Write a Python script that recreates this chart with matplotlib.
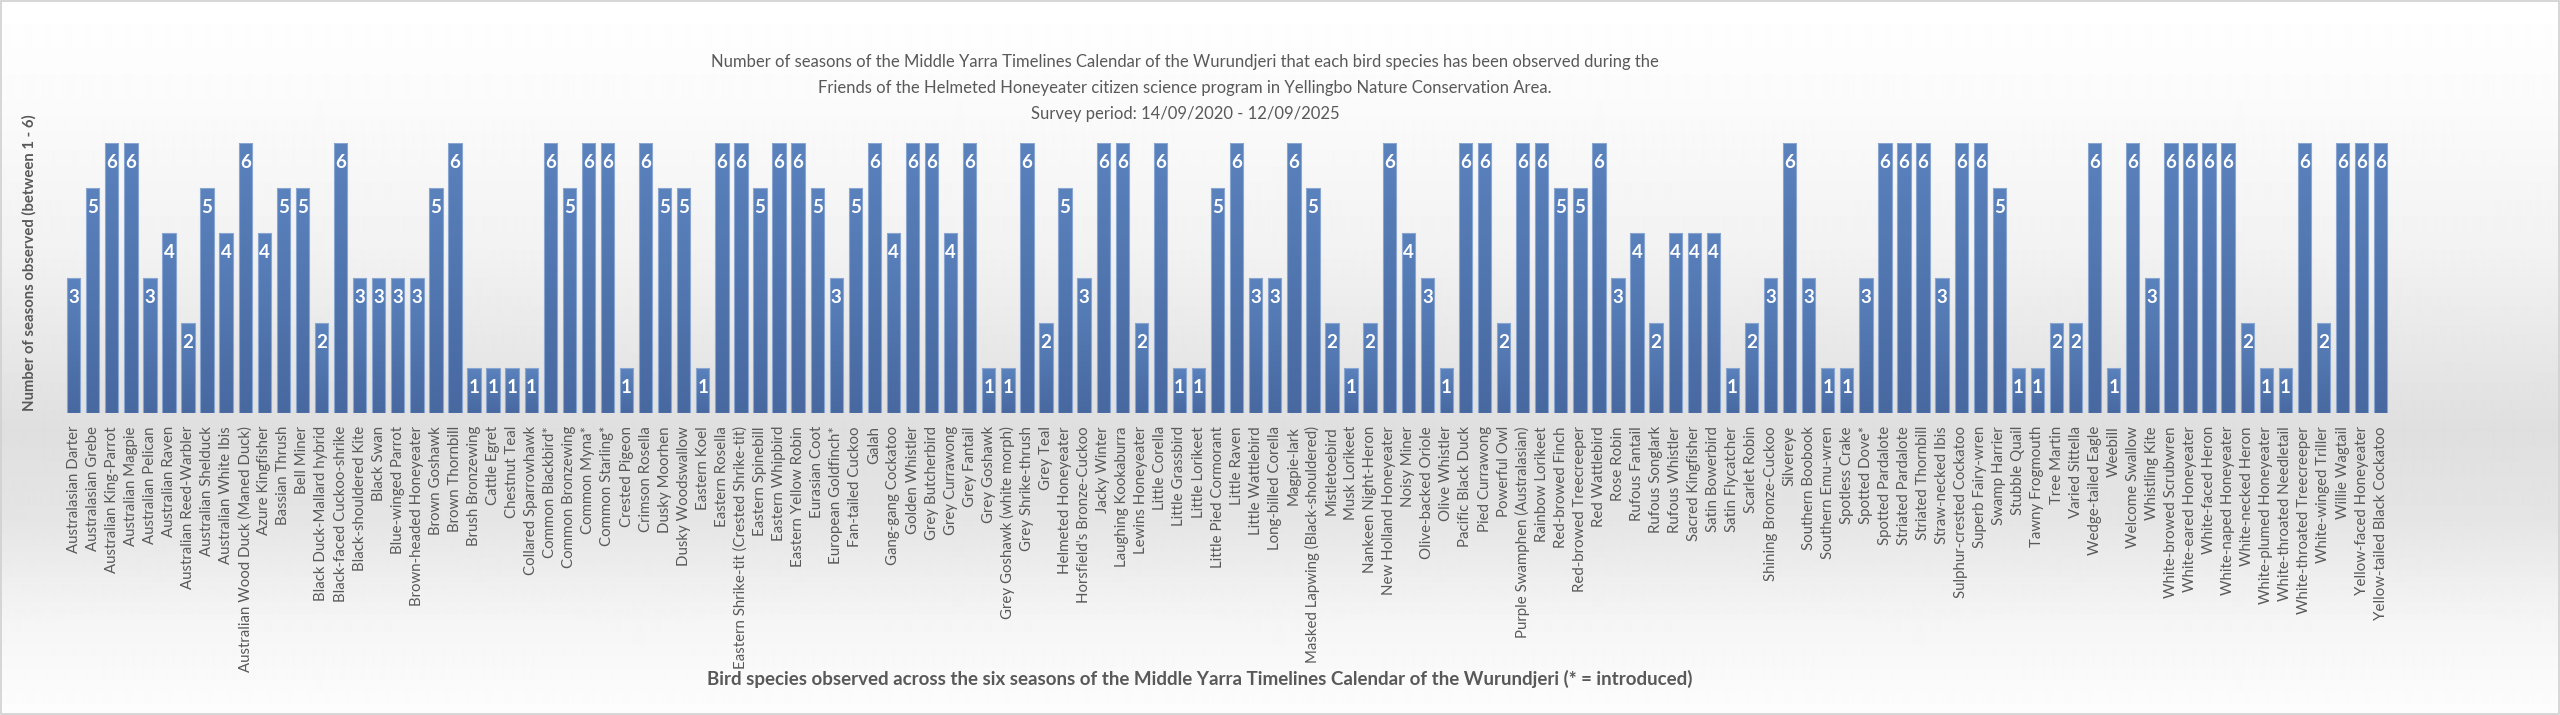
import numpy as np
import matplotlib
matplotlib.use('Agg')
import matplotlib.pyplot as plt
from matplotlib.colors import LinearSegmentedColormap
from matplotlib.patches import Rectangle

plt.rcParams['font.family'] = ['Lato', 'DejaVu Sans']

species = [
    'Australasian Darter', 'Australasian Grebe', 'Australian King-Parrot', 'Australian Magpie',
    'Australian Pelican', 'Australian Raven', 'Australian Reed-Warbler', 'Australian Shelduck',
    'Australian White Ibis', 'Australian Wood Duck (Maned Duck)', 'Azure Kingfisher', 'Bassian Thrush',
    'Bell Miner', 'Black Duck-Mallard hybrid', 'Black-faced Cuckoo-shrike', 'Black-shouldered Kite',
    'Black Swan', 'Blue-winged Parrot', 'Brown-headed Honeyeater', 'Brown Goshawk',
    'Brown Thornbill', 'Brush Bronzewing', 'Cattle Egret', 'Chestnut Teal',
    'Collared Sparrowhawk', 'Common Blackbird*', 'Common Bronzewing', 'Common Myna*',
    'Common Starling*', 'Crested Pigeon', 'Crimson Rosella', 'Dusky Moorhen',
    'Dusky Woodswallow', 'Eastern Koel', 'Eastern Rosella', 'Eastern Shrike-tit (Crested Shrike-tit)',
    'Eastern Spinebill', 'Eastern Whipbird', 'Eastern Yellow Robin', 'Eurasian Coot',
    'European Goldfinch*', 'Fan-tailed Cuckoo', 'Galah', 'Gang-gang Cockatoo',
    'Golden Whistler', 'Grey Butcherbird', 'Grey Currawong', 'Grey Fantail',
    'Grey Goshawk', 'Grey Goshawk (white morph)', 'Grey Shrike-thrush', 'Grey Teal',
    'Helmeted Honeyeater', "Horsfield's Bronze-Cuckoo", 'Jacky Winter', 'Laughing Kookaburra',
    'Lewins Honeyeater', 'Little Corella', 'Little Grassbird', 'Little Lorikeet',
    'Little Pied Cormorant', 'Little Raven', 'Little Wattlebird', 'Long-billed Corella',
    'Magpie-lark', 'Masked Lapwing (Black-shouldered)', 'Mistletoebird', 'Musk Lorikeet',
    'Nankeen Night-Heron', 'New Holland Honeyeater', 'Noisy Miner', 'Olive-backed Oriole',
    'Olive Whistler', 'Pacific Black Duck', 'Pied Currawong', 'Powerful Owl',
    'Purple Swamphen (Australasian)', 'Rainbow Lorikeet', 'Red-browed Finch', 'Red-browed Treecreeper',
    'Red Wattlebird', 'Rose Robin', 'Rufous Fantail', 'Rufous Songlark',
    'Rufous Whistler', 'Sacred Kingfisher', 'Satin Bowerbird', 'Satin Flycatcher',
    'Scarlet Robin', 'Shining Bronze-Cuckoo', 'Silvereye', 'Southern Boobook',
    'Southern Emu-wren', 'Spotless Crake', 'Spotted Dove*', 'Spotted Pardalote',
    'Striated Pardalote', 'Striated Thornbill', 'Straw-necked Ibis', 'Sulphur-crested Cockatoo',
    'Superb Fairy-wren', 'Swamp Harrier', 'Stubble Quail', 'Tawny Frogmouth',
    'Tree Martin', 'Varied Sittella', 'Wedge-tailed Eagle', 'Weebill',
    'Welcome Swallow', 'Whistling Kite', 'White-browed Scrubwren', 'White-eared Honeyeater',
    'White-faced Heron', 'White-naped Honeyeater', 'White-necked Heron', 'White-plumed Honeyeater',
    'White-throated Needletail', 'White-throated Treecreeper', 'White-winged Triller', 'Willie Wagtail',
    'Yellow-faced Honeyeater', 'Yellow-tailed Black Cockatoo',
]

seasons = [
    3, 5, 6, 6, 3, 4, 2, 5, 4, 6, 4, 5, 5, 2, 6, 3, 3, 3, 3, 5,
    6, 1, 1, 1, 1, 6, 5, 6, 6, 1, 6, 5, 5, 1, 6, 6, 5, 6, 6, 5,
    3, 5, 6, 4, 6, 6, 4, 6, 1, 1, 6, 2, 5, 3, 6, 6, 2, 6, 1, 1,
    5, 6, 3, 3, 6, 5, 2, 1, 2, 6, 4, 3, 1, 6, 6, 2, 6, 6, 5, 5,
    6, 3, 4, 2, 4, 4, 4, 1, 2, 3, 6, 3, 1, 1, 3, 6, 6, 6, 3, 6,
    6, 5, 1, 1, 2, 2, 6, 1, 6, 3, 6, 6, 6, 6, 2, 1, 1, 6, 2, 6,
    6, 6,
]

title = ('Number of seasons of the Middle Yarra Timelines Calendar of the Wurundjeri that each bird species has been observed during the\n'
         'Friends of the Helmeted Honeyeater citizen science program in Yellingbo Nature Conservation Area.\n'
         'Survey period: 14/09/2020 - 12/09/2025')
xlabel = 'Bird species observed across the six seasons of the Middle Yarra Timelines Calendar of the Wurundjeri (* = introduced)'
ylabel = 'Number of seasons observed (between 1 - 6)'

W, H = 2560, 715
fig = plt.figure(figsize=(W / 100, H / 100), dpi=100)
fig.patch.set_facecolor('white')

# background gradient (Excel style)
bg = fig.add_axes([0, 0, 1, 1], zorder=-10)
ys = np.array([0, 100, 250, 430, 520, 620, 715])
vs = np.array([255, 251, 242, 223, 229, 245, 253]) / 255.0
col = np.interp(np.arange(H), ys, vs)
bg.imshow(np.repeat(col[:, None], 4, axis=1), cmap='gray', vmin=0, vmax=1,
          aspect='auto', extent=[0, 1, 0, 1], interpolation='bilinear')
bg.add_patch(Rectangle((0.0005, 0.001), 0.999, 0.997, fill=False, edgecolor='#d0d0d0', lw=1.2))
bg.set_xlim(0, 1)
bg.set_ylim(0, 1)
bg.axis('off')

ax = fig.add_axes([64.1 / W, 302 / H, 2326.1 / W, 270 / H])
ax.set_facecolor('none')

x = np.arange(len(species))
bars = ax.bar(x, seasons, width=0.7, color='none', edgecolor='#89a5d1', linewidth=0.8, zorder=3)

bar_cmap = LinearSegmentedColormap.from_list('barblue', ['#4868a0', '#5a82bd'])
grad = np.linspace(1, 0, 128).reshape(-1, 1)
for b in bars:
    x0 = b.get_x()
    h = b.get_height()
    im = ax.imshow(grad, cmap=bar_cmap, vmin=0, vmax=1, aspect='auto',
                   extent=[x0, x0 + b.get_width(), 0, h], zorder=2)
    im.set_clip_path(b)

for xi, v in zip(x, seasons):
    ax.annotate(str(v), (xi, v), xytext=(0, -13.7), textcoords='offset points',
                ha='center', va='center', color='white', fontweight='bold', fontsize=13.5, zorder=4)

ax.set_xlim(-0.5, len(species) - 0.5)
ax.set_ylim(0, 6)
ax.set_xticks(x)
ax.set_xticklabels(species, rotation=90, fontsize=10.8, color='#595959')
ax.tick_params(axis='x', length=0, pad=9.4)
ax.set_yticks([])
for s in ax.spines.values():
    s.set_visible(False)

fig.text(1185 / W, 1 - 88 / H, title, ha='center', va='center', fontsize=12,
         color='#595959', linespacing=1.75)
fig.text(1200 / W, 1 - 679 / H, xlabel, ha='center', va='center', fontsize=13.5,
         fontweight='bold', color='#595959')
fig.text(29 / W, 1 - 263 / H, ylabel, ha='center', va='center', rotation=90,
         fontsize=10.7, fontweight='bold', color='#595959')

fig.savefig('out.png', dpi=100)
